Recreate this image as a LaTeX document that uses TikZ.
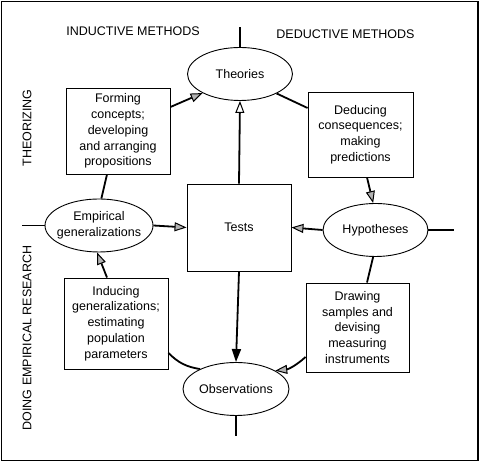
\documentclass[tikz,border=0pt]{standalone}
\usepackage{fontspec}
\setmainfont{Liberation Sans}
\usetikzlibrary{arrows.meta,shapes.geometric}

\tikzset{
  txt/.style={font=\fontsize{12.5}{15.8}\selectfont},
  stagebox/.style={txt, draw, line width=0.9pt, align=center, inner sep=2pt, minimum width=104pt, minimum height=87pt},
  oval/.style={txt, draw, ellipse, line width=0.9pt, align=center, inner sep=0pt, minimum width=105pt, minimum height=53pt},
  heading/.style={font=\fontsize{12.5}{15}\selectfont},
  link/.style={line width=1.8pt},
  flow/.style={link, -{Triangle[fill=gray!60, length=12pt, width=9pt, line width=1pt]}},
  upflow/.style={link, -{Triangle[open, fill=white, length=12pt, width=9pt, line width=1pt]}},
  downflow/.style={link, -{Triangle[length=13pt, width=9pt]}},
}

\begin{document}
\begin{tikzpicture}[x=1pt, y=1pt]
  \useasboundingbox (0,0) rectangle (480,462);
  % Frame
  \draw[line width=1.5pt] (1.5,1.5) rectangle (478,460.5);

  % Headings
  \node[heading] (inductive) at (133,431) {INDUCTIVE METHODS};
  \node[heading] (deductive) at (345.5,428) {DEDUCTIVE METHODS};
  \node[heading, rotate=90] (theorizing) at (27,334) {THEORIZING};
  \node[heading, rotate=90] (doing) at (27,124) {DOING EMPIRICAL RESEARCH};

  % Ovals and boxes
  \node[oval] (theories) at (240,388) {Theories};
  \node[oval, minimum width=108pt, inner xsep=-6pt] (empirical) at (99,236.5) {Empirical\\generalizations};
  \node[oval] (hypotheses) at (375.5,232) {Hypotheses};
  \node[oval, minimum width=106pt] (observations) at (236,73) {Observations};
  \node[stagebox] (tests) at (239,234.5) {Tests};

  \node[stagebox, minimum height=86pt] (forming) at (118,331) {Forming\\concepts;\\developing\\and arranging\\propositions};
  \node[stagebox, minimum width=105pt, minimum height=85pt] (deducing) at (360.5,327.5) {Deducing\\consequences;\\making\\predictions};
  \node[stagebox, minimum height=91pt] (inducing) at (116,138.5) {Inducing\\generalizations;\\estimating\\population\\parameters};
  \node[stagebox, minimum width=103pt, minimum height=89pt] (drawing) at (357.5,134.5) {Drawing\\samples and\\devising\\measuring\\instruments};

  % Free ends
  \coordinate (topend) at (240,435);
  \coordinate (leftend) at (22,236.5);
  \coordinate (rightend) at (454,232);
  \coordinate (bottomend) at (236,26);

  % Outer lines
  \draw[link] (theories.north) -- (topend);
  \draw[link] (empirical.west) -- (leftend);
  \draw[link] (hypotheses.east) -- (rightend);
  \draw[link] (observations.south) -- (bottomend);

  % Inductive side
  \draw[flow] ([yshift=24pt]forming.east) -- (theories.207);
  \draw[link] ([xshift=-11pt]forming.south) -- (empirical.85);
  \draw[flow] ([xshift=-9pt]inducing.north) -- (empirical.266);
  \draw[link] ([yshift=-29.5pt]inducing.east) to[bend right=18] (observations.151);

  % Deductive side
  \draw[link] (theories.332) -- ([yshift=26.5pt]deducing.west);
  \draw[flow] ([xshift=6.5pt]deducing.south) -- (hypotheses.95);
  \draw[link] (hypotheses.265) -- ([xshift=9.5pt]drawing.north);
  \draw[flow] ([yshift=-29.5pt]drawing.west) to[bend left=18] (observations.25);

  % Tests
  \draw[flow] (empirical.east) -- (tests.west);
  \draw[flow] (hypotheses.west) -- (tests.east);
  \draw[upflow] (tests.north) -- (theories.south);
  \draw[downflow] (tests.south) -- (observations.north);
\end{tikzpicture}
\end{document}
